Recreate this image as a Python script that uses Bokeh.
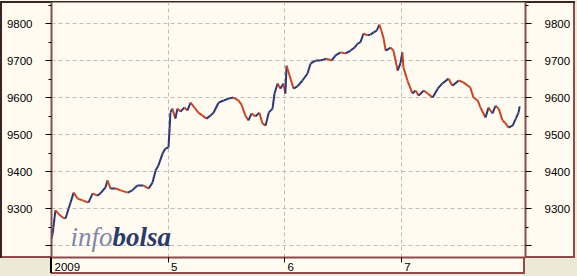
from bokeh.plotting import figure
from bokeh.models import FixedTicker, LinearAxis, Range1d, Label
from bokeh.embed import file_html
from bokeh.resources import INLINE

# ---- data ----
x_day = [0.0, 0.3, 0.5, 1.0, 1.8, 2.8, 3.6, 4.4, 4.9, 5.7, 6.7, 8.0, 9.5, 10.6, 11.8, 12.6,
         13.9, 14.4, 15.2, 16.5, 17.8, 19.6, 20.8, 22.1, 23.7, 25.0, 26.0, 26.8, 27.5, 28.6,
         29.3, 30.1, 30.4, 30.6, 31.1, 31.9, 32.4, 33.2, 34.2, 35.0, 35.8, 36.8, 37.8, 38.9,
         39.9, 40.9, 41.7, 43.0, 44.3, 45.6, 46.8, 48.1, 48.9, 49.9, 50.7, 51.5, 52.5, 53.5,
         54.3, 55.1, 55.9, 56.9, 57.4, 58.2, 58.9, 59.7, 60.2, 60.5, 61.3, 62.3, 63.3, 64.6,
         65.9, 66.7, 68.0, 69.2, 70.8, 72.1, 73.1, 74.4, 75.7, 77.0, 78.0, 78.8, 79.5, 80.3,
         81.3, 82.1, 82.9, 83.7, 84.4, 84.9, 85.5, 86.0, 87.3, 88.0, 89.1, 89.8, 90.3, 90.6,
         91.6, 92.9, 93.7, 94.5, 95.8, 96.8, 98.1, 99.4, 100.6, 102.2, 103.2, 104.8, 106.0,
         107.8, 108.6, 109.7, 110.4, 111.7, 112.5, 113.5, 114.3, 115.1, 116.1, 116.9, 117.6,
         118.7, 119.5, 120.2, 120.5]
price = [9219, 9232, 9249, 9295, 9286, 9276, 9273, 9300, 9316, 9343, 9327, 9322, 9316, 9341,
         9335, 9341, 9357, 9376, 9354, 9354, 9349, 9343, 9349, 9362, 9362, 9354, 9370, 9403,
         9416, 9449, 9462, 9465, 9516, 9559, 9570, 9543, 9570, 9562, 9573, 9565, 9586, 9573,
         9559, 9551, 9543, 9551, 9559, 9586, 9592, 9597, 9600, 9592, 9581, 9551, 9538, 9557,
         9549, 9559, 9530, 9524, 9559, 9570, 9611, 9638, 9624, 9638, 9611, 9686, 9659, 9624,
         9630, 9646, 9665, 9692, 9700, 9700, 9705, 9700, 9714, 9722, 9719, 9727, 9735, 9746,
         9749, 9773, 9768, 9770, 9776, 9781, 9797, 9781, 9759, 9727, 9735, 9727, 9673, 9692,
         9722, 9681, 9646, 9611, 9619, 9605, 9619, 9611, 9600, 9624, 9638, 9651, 9632, 9646,
         9641, 9627, 9600, 9592, 9573, 9546, 9573, 9557, 9578, 9570, 9538, 9530, 9519, 9524,
         9543, 9559, 9576]
y_ticks = [9200, 9300, 9400, 9500, 9600, 9700, 9800]
y_minor = [9150, 9250, 9350, 9450, 9550, 9650, 9750, 9850]
month_ticks = [0, 30, 60, 90]
month_labels = ["2009", "5", "6", "7"]

CREAM = "#fffbf0"
BROWN = "#8c4a4a"
DARK = "#3c2424"
GRAY = "#ece9d8"
UP = "#2c3778"
DOWN = "#cc4422"
FONT = "Liberation Sans"
FSIZE = 11.5
X0, X1 = 0, 122
FRAME_W = 474  # pixels between the two y axes


def layer(color, x, y, w, h):
    return f"linear-gradient({color},{color}) {x}px {y}px / {w}px {h}px no-repeat"


# page chrome (panel borders, x-label strip, grey window corners) painted behind the canvas
chrome = ", ".join([
    layer("black", 50, 257, 2, 16),
    layer(DARK, 0, 1, 575, 2),
    layer(DARK, 0, 1, 2, 257),
    layer(BROWN, 573, 1, 2, 257),
    layer(BROWN, 51, 272, 474, 2),
    layer(BROWN, 523, 257, 2, 17),
    layer(CREAM, 51, 257, 474, 17),
    layer(BROWN, 0, 256, 575, 2),
    layer(GRAY, 0, 258, 577, 18),
    layer(GRAY, 575, 0, 2, 276),
])

p = figure(width=577, height=276, x_range=Range1d(X0, X1), y_range=Range1d(9167.6, 9856.8),
           output_backend="svg", toolbar_location=None,
           min_border_left=51, min_border_right=52, min_border_top=2, min_border_bottom=19,
           background_fill_color=CREAM, border_fill_color=None, outline_line_color=None)
p.styles = {"background": f"{chrome}, {CREAM}"}

yt = FixedTicker(ticks=y_ticks, minor_ticks=y_minor)
overrides = {9200: ""}

ya = p.yaxis[0]
ya.ticker = yt
ra = LinearAxis(ticker=yt)
p.add_layout(ra, "right")
for ax in (ya, ra):
    ax.major_label_overrides = overrides
    ax.axis_line_color = BROWN
    ax.axis_line_width = 2
    ax.major_tick_out = 6
    ax.major_tick_in = 0
    ax.minor_tick_out = 3
    ax.minor_tick_in = 0
    ax.major_tick_line_color = "black"
    ax.minor_tick_line_color = "black"
    ax.major_label_standoff = 13
    ax.major_label_text_font = FONT
    ax.major_label_text_font_size = f"{FSIZE}px"
    ax.major_label_text_color = "black"

# x axis: tick marks only
xa = p.xaxis[0]
xa.ticker = FixedTicker(ticks=month_ticks, minor_ticks=[])
xa.major_label_overrides = {t: "" for t in month_ticks}
xa.major_label_text_font_size = "0px"
xa.major_label_standoff = 0
xa.axis_line_color = BROWN
xa.axis_line_width = 2
xa.major_tick_out = 5
xa.major_tick_in = 0
xa.major_tick_line_color = "black"

# second x axis underneath: the month labels, set just right of each tick mark
px_per_unit = FRAME_W / (X1 - X0)
char_w = 0.556 * FSIZE
label_pos = [t + (3 + char_w * len(s) / 2) / px_per_unit for t, s in zip(month_ticks, month_labels)]
xl = LinearAxis(ticker=FixedTicker(ticks=label_pos, minor_ticks=[]),
                major_label_overrides={pos: s for pos, s in zip(label_pos, month_labels)},
                axis_line_color=None, major_tick_line_color=None, minor_tick_line_color=None,
                major_tick_out=0, major_tick_in=0, major_label_standoff=0,
                major_label_text_font=FONT, major_label_text_font_size=f"{FSIZE}px",
                major_label_text_color="black")
p.add_layout(xl, "below")

p.ygrid.ticker = FixedTicker(ticks=y_ticks)
p.xgrid.ticker = FixedTicker(ticks=month_ticks[1:])
for g in (p.xgrid[0], p.ygrid[0]):
    g.grid_line_color = "#bdbdbd"
    g.grid_line_dash = "4 3"
    g.grid_line_width = 1

# price path, coloured by direction of each step
x0, y0, x1, y1, cols = [], [], [], [], []
for i in range(1, len(price)):
    x0.append(x_day[i - 1]); y0.append(price[i - 1])
    x1.append(x_day[i]); y1.append(price[i])
    cols.append(UP if price[i] >= price[i - 1] else DOWN)
p.segment(x0=x0, y0=y0, x1=x1, y1=y1, line_color=cols, line_width=2)

# watermark
p.add_layout(Label(x=4.9, y=9222, text="info", text_font="Liberation Serif",
                   text_font_style="italic", text_font_size="27px", text_color="#7f87aa",
                   text_baseline="alphabetic"))
p.add_layout(Label(x=15.7, y=9222, text="bolsa", text_font="Liberation Serif",
                   text_font_style="bold italic", text_font_size="27px", text_color="#2b3a6b",
                   text_baseline="alphabetic"))

open("out.html", "w").write(file_html(p, INLINE))
